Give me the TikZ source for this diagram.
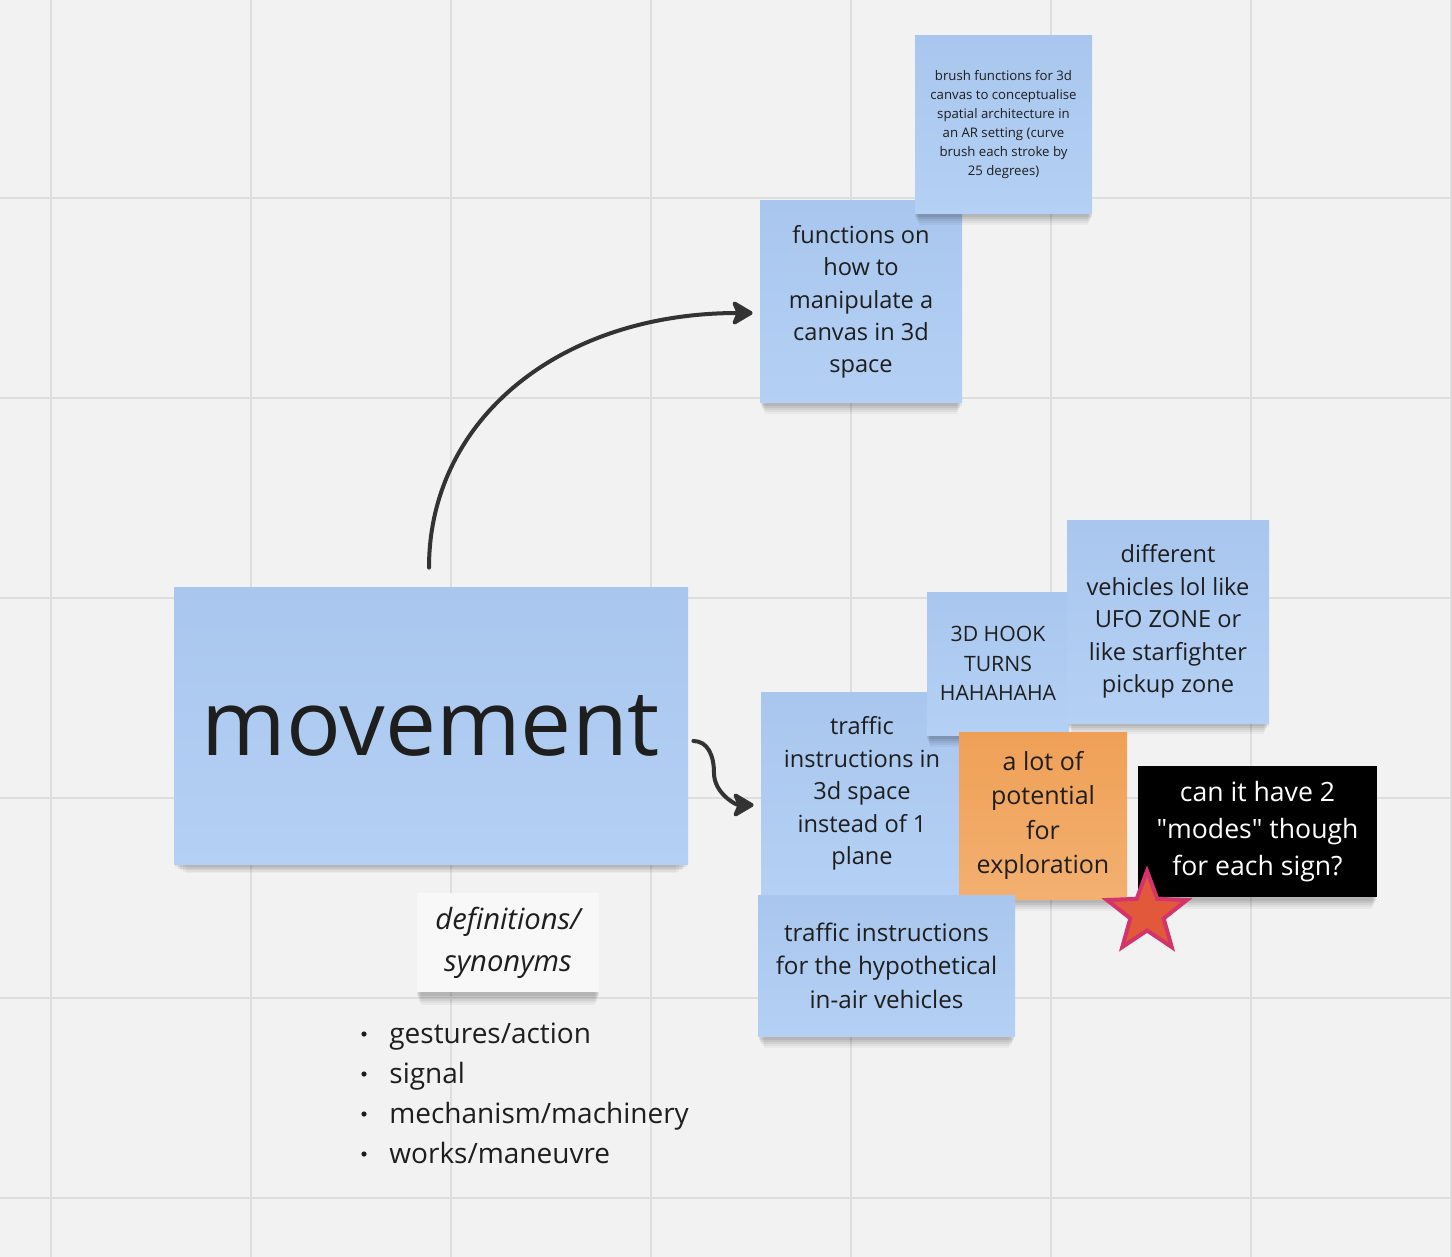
\documentclass[tikz,border=0pt]{standalone}
\usepackage{fontspec}
\setmainfont{Open Sans}
\usetikzlibrary{arrows.meta,shadows,calc}
\definecolor{bgc}{HTML}{F2F2F2}
\definecolor{gridc}{HTML}{DEDEDE}
\definecolor{ink}{HTML}{1E1E1E}
\definecolor{bluetop}{HTML}{A9C6EE}
\definecolor{bluebot}{HTML}{B4D0F4}
\definecolor{orangetop}{HTML}{EFA056}
\definecolor{orangebot}{HTML}{F3B070}
\definecolor{arrowc}{HTML}{333333}
\definecolor{starfill}{HTML}{E2583B}
\definecolor{stardraw}{HTML}{D4346C}
\definecolor{whitenote}{HTML}{F8F8F8}
\tikzset{
  sz/.style 2 args={minimum width=#1*0.5pt, minimum height=#2*0.5pt},
  fsz/.style 2 args={font=\fontsize{#1}{#2}\selectfont},
  notebase/.style={rectangle, inner sep=0pt, align=center, text=ink,
    general shadow={fill=black, opacity=0.035, shadow yshift=-8pt, shadow scale=0.955},
    general shadow={fill=black, opacity=0.045, shadow yshift=-6.5pt, shadow scale=0.965},
    general shadow={fill=black, opacity=0.055, shadow yshift=-5pt, shadow scale=0.975},
    general shadow={fill=black, opacity=0.065, shadow yshift=-3.5pt, shadow scale=0.985},
    general shadow={fill=black, opacity=0.07, shadow yshift=-2pt, shadow scale=0.995}},
  bluenote/.style={notebase, top color=bluetop, bottom color=bluebot},
  orangenote/.style={notebase, top color=orangetop, bottom color=orangebot},
  blacknote/.style={notebase, fill=black, text=white},
  whitenote/.style={notebase, fill=whitenote},
  arr/.style={draw=arrowc, line width=2pt, line cap=round,
    -{Stealth[length=12pt,width=14pt,inset=3pt,round]}},
  listitem/.style={anchor=base west, inner sep=0pt, text=ink, fsz={14}{17}},
  dot/.style={circle, fill=ink, inner sep=0pt, minimum size=2.6pt},
}
\begin{document}
\begin{tikzpicture}[x=0.5pt,y=-0.5pt]
\useasboundingbox (0,0) rectangle (1452,1257);
\fill[bgc] (0,0) rectangle (1452,1257);
% grid
\foreach \gx in {51,251,...,1451} \draw[gridc, line width=1pt] (\gx,0) -- (\gx,1257);
\foreach \gy in {198,398,...,1198} \draw[gridc, line width=1pt] (0,\gy) -- (1452,\gy);

% notes (top)
\node[bluenote, sz={202}{202}, fsz={11.8}{16.2}] (functions) at (861,302)
  {functions on\\how to\\manipulate a\\canvas in 3d\\space};
\node[bluenote, sz={177}{178}, fsz={6.6}{9.5}] (brush) at (1003.5,124.5)
  {brush functions for 3d\\canvas to conceptualise\\spatial architecture in\\an AR setting (curve\\brush each stroke by\\25 degrees)};

% main note
\node[bluenote, sz={514}{277}, fsz={45.5}{50}] (movement) at (431,725.5) {movement};

% definitions
\node[whitenote, sz={182}{99}, font={\fontsize{14.6}{21}\selectfont\itshape}] (defs) at (508,942.5)
  {\raisebox{-1.5pt}{definitions/}\\\raisebox{-1.5pt}{synonyms}};

% lower cluster
\node[bluenote, sz={202}{203}, fsz={11.8}{16.2}] (traffic) at (862,793.5)
  {traffic\\instructions in\\3d space\\instead of 1\\plane};
\node[bluenote, sz={142}{143}, fsz={10.6}{14.75}] (hook) at (998,663.5)
  {3D HOOK\\TURNS\\HAHAHAHA};
\node[bluenote, sz={202}{203}, fsz={11.8}{16.2}] (vehicles) at (1168,621.5)
  {different\\vehicles lol like\\UFO ZONE or\\like starfighter\\pickup zone};
\node[orangenote, sz={168}{167}, fsz={12.5}{17.3}] (potential) at (1043,815.5)
  {a lot of\\potential\\for\\exploration};
\node[blacknote, sz={239}{131}, fsz={13.3}{18.5}] (modes) at (1257.5,831.5)
  {can it have 2\\\textquotedbl modes\textquotedbl\ though\\for each sign?};
\node[bluenote, sz={257}{141}, fsz={12.1}{16.75}] (inair) at (886.5,965.5)
  {traffic instructions\\for the hypothetical\\in-air vehicles};

% star
\draw[fill=starfill, draw=stardraw, line width=2pt, shift={(1147,913)}]
  (-90:42) -- (-54:17.5) -- (-18:42) -- (18:17.5) -- (54:42) -- (90:17.5)
  -- (126:42) -- (162:17.5) -- (198:42) -- (234:17.5) -- cycle;

% connectors
\coordinate (a1s) at ($(movement.north)+(-2,-19)$);
\coordinate (a1e) at ($(functions.west)+(-7,11)$);
\draw[arr] (a1s) .. controls +(0,-148) and +(-193,0) .. (a1e);
\coordinate (a2s) at ($(movement.east)+(5,15.5)$);
\coordinate (a2m) at (714,773);
\coordinate (a2e) at ($(traffic.west)+(-7,11.5)$);
\draw[arr] (a2s) .. controls +(14,0) and +(0,-18) .. (a2m)
  .. controls +(0,20) and +(-18,0) .. (a2e);

% list
\foreach \k/\t in {0/gestures\slash action,1/signal,2/mechanism\slash machinery,3/works\slash maneuvre}{
  \node[dot] (d\k) at (364,1034+40*\k) {};
  \node[listitem] (l\k) at (389,1043+40*\k) {\t};
}
\end{tikzpicture}
\end{document}
